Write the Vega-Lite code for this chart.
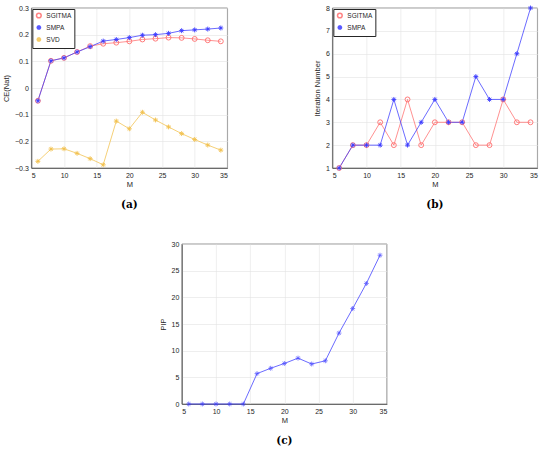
{
  "$schema": "https://vega.github.io/schema/vega-lite/v6.json",
  "background": "white",
  "padding": {"left": 2, "top": 3, "right": 2, "bottom": 2},
  "config": {
    "font": "Liberation Sans",
    "view": {"stroke": "#262626", "strokeWidth": 0.6},
    "axis": {
      "labelFontSize": 7,
      "titleFontSize": 7.5,
      "titleFontWeight": "normal",
      "labelColor": "#262626",
      "titleColor": "#262626",
      "domainColor": "#262626",
      "domainWidth": 0.6,
      "ticks": false,
      "labelPadding": 3,
      "gridColor": "#e3e3e3",
      "gridWidth": 0.6
    },
    "legend": {
      "labelFontSize": 6.5,
      "labelColor": "#262626",
      "symbolSize": 22,
      "rowPadding": 1,
      "padding": 3,
      "strokeColor": "#262626",
      "fillColor": "white",
      "orient": "top-left",
      "offset": 1,
      "labelLimit": 80
    },
    "title": {
      "font": "DejaVu Serif",
      "fontSize": 10.5,
      "fontWeight": "bold",
      "color": "#000000",
      "orient": "bottom",
      "anchor": "middle",
      "offset": 12
    }
  },
  "datasets": {
    "ce": [
      {"M": 6, "method": "SGITMA", "value": -0.048},
      {"M": 8, "method": "SGITMA", "value": 0.102},
      {"M": 10, "method": "SGITMA", "value": 0.113},
      {"M": 12, "method": "SGITMA", "value": 0.135},
      {"M": 14, "method": "SGITMA", "value": 0.157},
      {"M": 16, "method": "SGITMA", "value": 0.166},
      {"M": 18, "method": "SGITMA", "value": 0.170},
      {"M": 20, "method": "SGITMA", "value": 0.175},
      {"M": 22, "method": "SGITMA", "value": 0.182},
      {"M": 24, "method": "SGITMA", "value": 0.185},
      {"M": 26, "method": "SGITMA", "value": 0.189},
      {"M": 28, "method": "SGITMA", "value": 0.188},
      {"M": 30, "method": "SGITMA", "value": 0.184},
      {"M": 32, "method": "SGITMA", "value": 0.179},
      {"M": 34, "method": "SGITMA", "value": 0.175},
      {"M": 6, "method": "SMPA", "value": -0.048},
      {"M": 8, "method": "SMPA", "value": 0.102},
      {"M": 10, "method": "SMPA", "value": 0.113},
      {"M": 12, "method": "SMPA", "value": 0.135},
      {"M": 14, "method": "SMPA", "value": 0.155},
      {"M": 16, "method": "SMPA", "value": 0.176},
      {"M": 18, "method": "SMPA", "value": 0.182},
      {"M": 20, "method": "SMPA", "value": 0.189},
      {"M": 22, "method": "SMPA", "value": 0.198},
      {"M": 24, "method": "SMPA", "value": 0.200},
      {"M": 26, "method": "SMPA", "value": 0.205},
      {"M": 28, "method": "SMPA", "value": 0.215},
      {"M": 30, "method": "SMPA", "value": 0.218},
      {"M": 32, "method": "SMPA", "value": 0.221},
      {"M": 34, "method": "SMPA", "value": 0.225},
      {"M": 6, "method": "SVD", "value": -0.275},
      {"M": 8, "method": "SVD", "value": -0.229},
      {"M": 10, "method": "SVD", "value": -0.228},
      {"M": 12, "method": "SVD", "value": -0.245},
      {"M": 14, "method": "SVD", "value": -0.265},
      {"M": 16, "method": "SVD", "value": -0.288},
      {"M": 18, "method": "SVD", "value": -0.124},
      {"M": 20, "method": "SVD", "value": -0.153},
      {"M": 22, "method": "SVD", "value": -0.091},
      {"M": 24, "method": "SVD", "value": -0.120},
      {"M": 26, "method": "SVD", "value": -0.146},
      {"M": 28, "method": "SVD", "value": -0.171},
      {"M": 30, "method": "SVD", "value": -0.193},
      {"M": 32, "method": "SVD", "value": -0.214},
      {"M": 34, "method": "SVD", "value": -0.233}
    ],
    "iter": [
      {"M": 6, "method": "SGITMA", "value": 1},
      {"M": 8, "method": "SGITMA", "value": 2},
      {"M": 10, "method": "SGITMA", "value": 2},
      {"M": 12, "method": "SGITMA", "value": 3},
      {"M": 14, "method": "SGITMA", "value": 2},
      {"M": 16, "method": "SGITMA", "value": 4},
      {"M": 18, "method": "SGITMA", "value": 2},
      {"M": 20, "method": "SGITMA", "value": 3},
      {"M": 22, "method": "SGITMA", "value": 3},
      {"M": 24, "method": "SGITMA", "value": 3},
      {"M": 26, "method": "SGITMA", "value": 2},
      {"M": 28, "method": "SGITMA", "value": 2},
      {"M": 30, "method": "SGITMA", "value": 4},
      {"M": 32, "method": "SGITMA", "value": 3},
      {"M": 34, "method": "SGITMA", "value": 3},
      {"M": 6, "method": "SMPA", "value": 1},
      {"M": 8, "method": "SMPA", "value": 2},
      {"M": 10, "method": "SMPA", "value": 2},
      {"M": 12, "method": "SMPA", "value": 2},
      {"M": 14, "method": "SMPA", "value": 4},
      {"M": 16, "method": "SMPA", "value": 2},
      {"M": 18, "method": "SMPA", "value": 3},
      {"M": 20, "method": "SMPA", "value": 4},
      {"M": 22, "method": "SMPA", "value": 3},
      {"M": 24, "method": "SMPA", "value": 3},
      {"M": 26, "method": "SMPA", "value": 5},
      {"M": 28, "method": "SMPA", "value": 4},
      {"M": 30, "method": "SMPA", "value": 4},
      {"M": 32, "method": "SMPA", "value": 6},
      {"M": 34, "method": "SMPA", "value": 8}
    ],
    "pip": [
      {"M": 6, "value": 0},
      {"M": 8, "value": 0},
      {"M": 10, "value": 0},
      {"M": 12, "value": 0},
      {"M": 14, "value": 0},
      {"M": 16, "value": 5.7},
      {"M": 18, "value": 6.7},
      {"M": 20, "value": 7.6},
      {"M": 22, "value": 8.6},
      {"M": 24, "value": 7.5},
      {"M": 26, "value": 8.1},
      {"M": 28, "value": 13.3},
      {"M": 30, "value": 17.9},
      {"M": 32, "value": 22.6},
      {"M": 34, "value": 27.9}
    ]
  },
  "center": true,
  "spacing": 28,
  "vconcat": [
    {
      "spacing": 84,
      "hconcat": [
        {
          "title": "(a)",
          "width": 196,
          "height": 160,
          "data": {"name": "ce"},
          "encoding": {
            "x": {"field": "M", "type": "quantitative", "title": "M", "scale": {"domain": [5, 35]}, "axis": {"values": [5, 10, 15, 20, 25, 30, 35], "titlePadding": 2}},
            "y": {"field": "value", "type": "quantitative", "title": "CE(Nat)", "scale": {"domain": [-0.3, 0.3]}, "axis": {"values": [-0.3, -0.2, -0.1, 0, 0.1, 0.2, 0.3], "format": "~g", "titlePadding": 4}},
            "color": {"field": "method", "type": "nominal", "title": null, "scale": {"domain": ["SGITMA", "SMPA", "SVD"], "range": ["#ff6e6e", "#3c3cff", "#f2c14e"]}}
          },
          "layer": [
            {"mark": {"type": "line", "strokeWidth": 0.9, "opacity": 0.85}},
            {
              "mark": {"type": "point", "filled": false, "strokeWidth": 0.9, "opacity": 1},
              "encoding": {
                "shape": {"field": "method", "type": "nominal", "title": null, "scale": {"domain": ["SGITMA", "SMPA", "SVD"], "range": ["circle", "M-1,0L1,0M0,-1L0,1M-0.7,-0.7L0.7,0.7M-0.7,0.7L0.7,-0.7", "M-1,0L1,0M0,-1L0,1M-0.7,-0.7L0.7,0.7M-0.7,0.7L0.7,-0.7"]}},
                "size": {"value": 24}
              }
            }
          ]
        },
        {
          "title": "(b)",
          "width": 205,
          "height": 160,
          "data": {"name": "iter"},
          "encoding": {
            "x": {"field": "M", "type": "quantitative", "title": "M", "scale": {"domain": [5, 35]}, "axis": {"values": [5, 10, 15, 20, 25, 30, 35], "titlePadding": 2}},
            "y": {"field": "value", "type": "quantitative", "title": "Iteration Number", "scale": {"domain": [1, 8]}, "axis": {"values": [1, 2, 3, 4, 5, 6, 7, 8], "titlePadding": 4}},
            "color": {"field": "method", "type": "nominal", "title": null, "scale": {"domain": ["SGITMA", "SMPA"], "range": ["#ff6e6e", "#3c3cff"]}}
          },
          "layer": [
            {"mark": {"type": "line", "strokeWidth": 0.9, "opacity": 0.85}},
            {
              "mark": {"type": "point", "filled": false, "strokeWidth": 0.9, "opacity": 1},
              "encoding": {
                "shape": {"field": "method", "type": "nominal", "title": null, "scale": {"domain": ["SGITMA", "SMPA"], "range": ["circle", "M-1,0L1,0M0,-1L0,1M-0.7,-0.7L0.7,0.7M-0.7,0.7L0.7,-0.7"]}},
                "size": {"value": 24}
              }
            }
          ]
        }
      ],
      "resolve": {"scale": {"color": "independent", "shape": "independent"}}
    },
    {
      "title": "(c)",
      "width": 205,
      "height": 160,
      "data": {"name": "pip"},
      "encoding": {
        "x": {"field": "M", "type": "quantitative", "title": "M", "scale": {"domain": [5, 35]}, "axis": {"values": [5, 10, 15, 20, 25, 30, 35], "titlePadding": 2}},
        "y": {"field": "value", "type": "quantitative", "title": "PIP", "scale": {"domain": [0, 30]}, "axis": {"values": [0, 5, 10, 15, 20, 25, 30], "titlePadding": 4}}
      },
      "layer": [
        {"mark": {"type": "line", "color": "#3c3cff", "strokeWidth": 0.9, "opacity": 0.85}},
        {"mark": {"type": "point", "color": "#3c3cff", "filled": false, "strokeWidth": 0.9, "size": 24, "shape": "M-1,0L1,0M0,-1L0,1M-0.7,-0.7L0.7,0.7M-0.7,0.7L0.7,-0.7"}}
      ]
    }
  ]
}
